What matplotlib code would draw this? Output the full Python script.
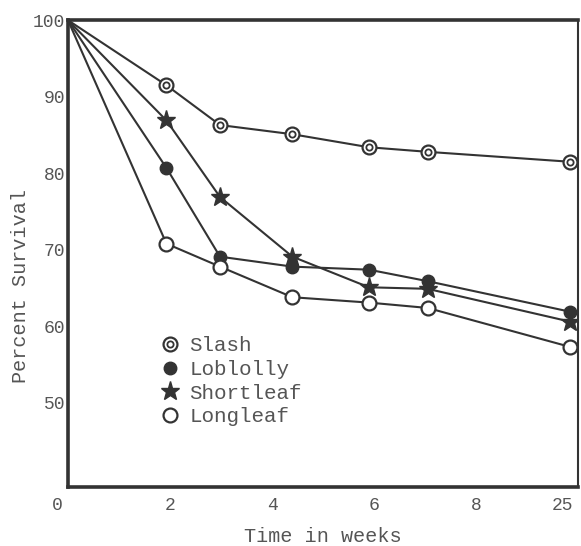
import matplotlib
matplotlib.use("Agg")
import matplotlib.pyplot as plt
import matplotlib.transforms as mtransforms
from matplotlib.lines import Line2D

# plot positions of the weeks (last one is week 25, drawn on a broken scale)
weeks_pos = [0, 1.93, 2.98, 4.4, 5.9, 7.05, 9.85]
tick_pos = [0, 2, 4, 6, 8, 9.7]
tick_labels = ["0", "2", "4", "6", "8", "25"]

slash = [100, 91.5, 86.3, 85.1, 83.4, 82.8, 81.5]
loblolly = [100, 80.7, 69.1, 67.8, 67.4, 65.9, 61.9]
shortleaf = [100, 86.9, 76.9, 69.1, 65.1, 64.9, 60.6]
longleaf = [100, 70.8, 67.8, 63.8, 63.1, 62.4, 57.3]

ink = "#333333"
text_c = "#555555"
font = "Liberation Mono"
plt.rcParams["font.family"] = font

fig = plt.figure(figsize=(5.81, 5.46), dpi=100)
ax = fig.add_axes([0.117, 0.108, 0.878, 0.855])

lw = 1.5
ax.plot(weeks_pos, slash, color=ink, lw=lw, marker="o", ms=10, mfc="white", mec=ink, mew=1.6,
        markevery=list(range(1, 7)), zorder=3)
ax.plot(weeks_pos[1:], slash[1:], ls="none", marker="o", ms=4.5, mfc="white", mec=ink, mew=1.3, zorder=4)
ax.plot(weeks_pos, loblolly, color=ink, lw=lw, marker="o", ms=9, mfc=ink, mec=ink,
        markevery=list(range(1, 7)), zorder=3)
ax.plot(weeks_pos, shortleaf, color=ink, lw=lw, marker="*", ms=14, mfc=ink, mec=ink,
        markevery=list(range(1, 7)), zorder=3)
ax.plot(weeks_pos, longleaf, color=ink, lw=lw, marker="o", ms=10, mfc="white", mec=ink, mew=1.6,
        markevery=list(range(1, 7)), zorder=3)

ax.set_xlim(0, 10)
ax.set_ylim(39, 100)
ax.set_xticks(tick_pos)
ax.set_xticklabels(tick_labels)
ax.set_yticks([50, 60, 70, 80, 90, 100])
ax.tick_params(length=0, labelsize=13, labelcolor=text_c, pad=7)
ax.tick_params(axis="y", pad=2)

# the origin label sits a bit left of the axis
zero_lbl = ax.get_xticklabels()[0]
zero_lbl.set_transform(zero_lbl.get_transform() +
                       mtransforms.ScaledTranslation(-0.11, 0, fig.dpi_scale_trans))

for side in ["left", "bottom", "top"]:
    ax.spines[side].set_linewidth(2.6)
    ax.spines[side].set_color(ink)
ax.spines["right"].set_linewidth(1.5)
ax.spines["right"].set_color(ink)

ax.set_xlabel("Time in weeks", fontsize=14.5, color=text_c)
ax.xaxis.set_label_coords(0.5, -0.086)
ax.set_ylabel("Percent Survival", fontsize=14.5, color=text_c)
ax.yaxis.set_label_coords(-0.075, 0.43)

h_slash = (Line2D([], [], ls="none", marker="o", ms=10, mfc="white", mec=ink, mew=1.6),
           Line2D([], [], ls="none", marker="o", ms=4.5, mfc="white", mec=ink, mew=1.3))
h_lob = Line2D([], [], ls="none", marker="o", ms=9, mfc=ink, mec=ink)
h_short = Line2D([], [], ls="none", marker="*", ms=14, mfc=ink, mec=ink)
h_long = Line2D([], [], ls="none", marker="o", ms=10, mfc="white", mec=ink, mew=1.6)
leg = ax.legend([h_slash, h_lob, h_short, h_long], ["Slash", "Loblolly", "Shortleaf", "Longleaf"],
                loc="upper left", bbox_to_anchor=(0.16, 0.345), frameon=False, fontsize=15,
                handlelength=1.0, handletextpad=0.4, labelspacing=0.22, borderpad=0)
for t in leg.get_texts():
    t.set_color(text_c)

fig.savefig("out.png", dpi=100)
